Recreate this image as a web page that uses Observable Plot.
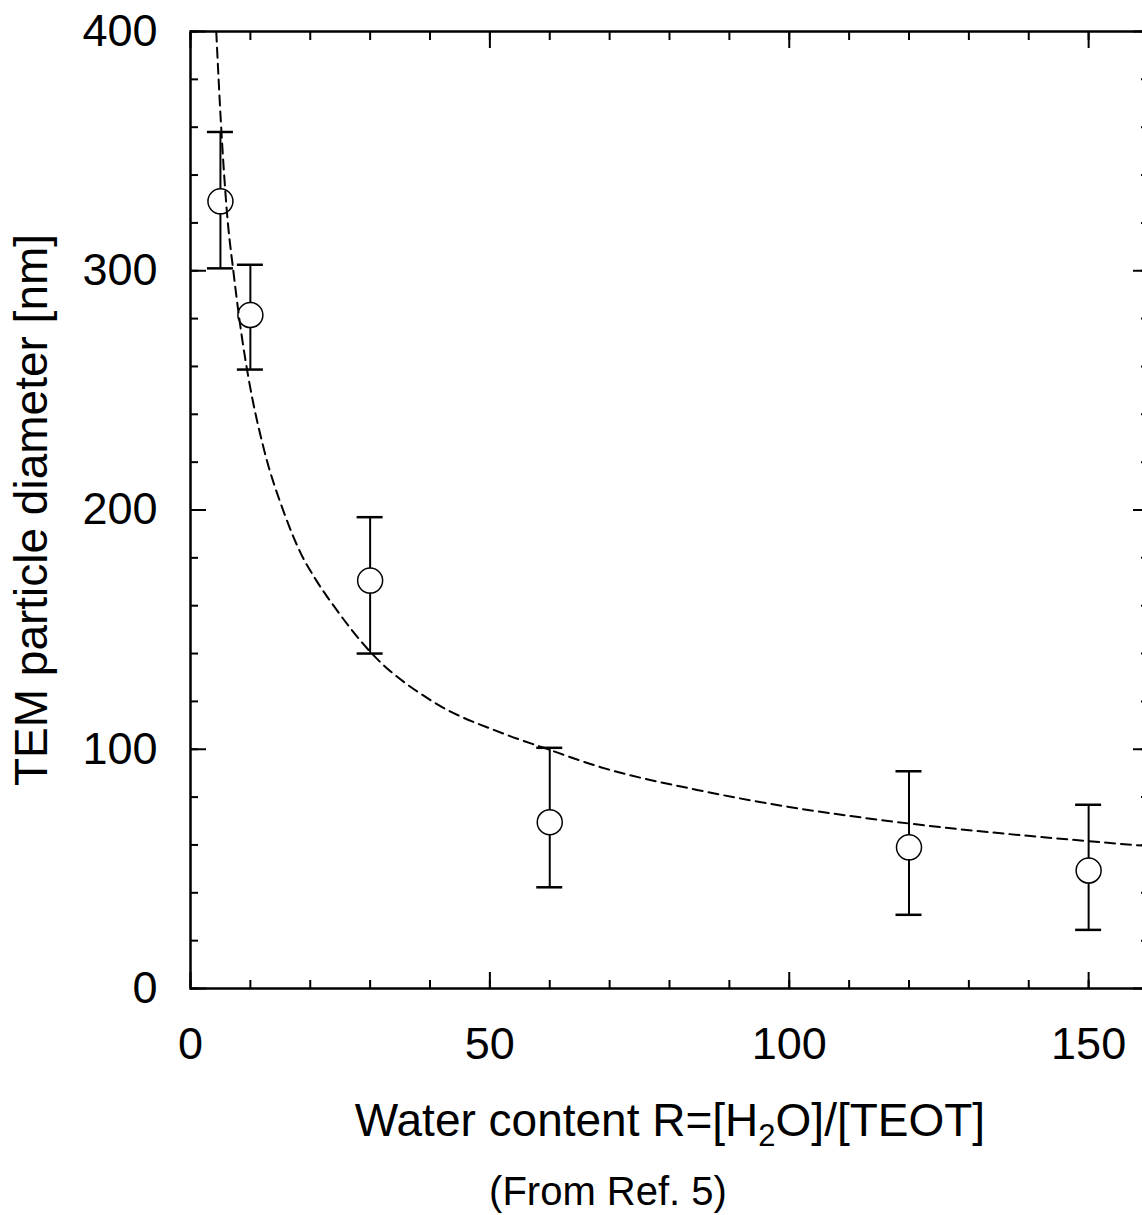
<!DOCTYPE html>
<html>
<head>
<meta charset="utf-8">
<script src="https://cdn.jsdelivr.net/npm/d3@7"></script>
<script src="https://cdn.jsdelivr.net/npm/@observablehq/plot@0.6"></script>
<style>
html, body { margin: 0; padding: 0; background: #fff; overflow: hidden; width: 1142px; height: 1215px; }
#chart svg { display: block; max-width: none; }
#caption { position: absolute; left: 408px; top: 1171px; width: 400px; text-align: center;
  font-family: "Liberation Sans", Arial, sans-serif; font-size: 40px; line-height: 40px; color: #000; }
</style>
</head>
<body>
<div id="chart"></div>
<div id="caption">(From Ref. 5)</div>
<script>
// Measured points: water content R vs TEM particle diameter (nm)
const waterR = [5, 10, 30, 60, 120, 150];
const diameter = [329, 281.5, 170.5, 69.5, 59, 49.3];
const errHigh = [358, 302.5, 197, 100.6, 90.8, 76.8];
const errLow = [301, 258.7, 140, 42.3, 30.8, 24.5];

// Dashed fit curve
const curveR = [4.3, 5.1, 6.1, 7.2, 8.6, 9.7, 12.2, 15.6, 18.4, 20.9, 23.9, 30.1, 40.1, 52.3, 59.0, 68.5, 84.6, 99.7, 119.9, 149.9, 160];
const curveD = [400, 361, 324, 299, 272, 255, 226, 199, 182, 171, 160, 140.5, 120.5, 106.5, 100.6, 92.5, 83, 76, 69, 61.6, 59.5];

const xMajor = [0, 50, 100, 150];
const xMinor = d3.range(0, 161, 10);
const yMajor = [0, 100, 200, 300, 400];
const yMinor = d3.range(0, 401, 20);

const points = waterR.map((r, i) => ({R: r, d: diameter[i], hi: errHigh[i], lo: errLow[i]}));
const curve = curveR.map((r, i) => ({R: r, d: curveD[i]}));

const blank = () => "";
const chart = Plot.plot({
  width: 1160,
  height: 1165,
  marginLeft: 190,
  marginRight: 12,
  marginTop: 31,
  marginBottom: 177,
  style: {fontFamily: "'Liberation Sans', Arial, sans-serif", color: "#000", background: "#fff"},
  x: {domain: [0, 160]},
  y: {domain: [0, 400]},
  marks: [
    Plot.axisX({anchor: "bottom", ticks: xMinor, tickSize: -8, tickFormat: blank, strokeWidth: 2, label: null}),
    Plot.axisX({anchor: "bottom", ticks: xMajor, tickSize: -16, tickFormat: blank, strokeWidth: 2, label: null}),
    Plot.axisX({anchor: "top", ticks: xMinor, tickSize: -8, tickFormat: blank, strokeWidth: 2, label: null}),
    Plot.axisX({anchor: "top", ticks: xMajor, tickSize: -16, tickFormat: blank, strokeWidth: 2, label: null}),
    Plot.axisX({anchor: "bottom", ticks: xMajor, tickSize: 0, tickPadding: 39, fontSize: 45, label: null}),
    Plot.axisY({anchor: "left", ticks: yMinor, tickSize: -8, tickFormat: blank, strokeWidth: 2, label: null}),
    Plot.axisY({anchor: "left", ticks: yMajor, tickSize: -16, tickFormat: blank, strokeWidth: 2, label: null}),
    Plot.axisY({anchor: "right", ticks: yMinor, tickSize: -8, tickFormat: blank, strokeWidth: 2, label: null}),
    Plot.axisY({anchor: "right", ticks: yMajor, tickSize: -16, tickFormat: blank, strokeWidth: 2, label: null}),
    Plot.axisY({anchor: "left", ticks: yMajor, tickSize: 0, tickPadding: 33, fontSize: 45, label: null}),
    Plot.frame({stroke: "#000", strokeWidth: 2.5}),
    Plot.ruleX(points, {x: "R", y1: "lo", y2: "hi", stroke: "#000", strokeWidth: 2}),
    Plot.ruleY(points, {y: "hi", x1: "R", x2: "R", insetLeft: -13, insetRight: -13, stroke: "#000", strokeWidth: 2.5}),
    Plot.ruleY(points, {y: "lo", x1: "R", x2: "R", insetLeft: -13, insetRight: -13, stroke: "#000", strokeWidth: 2.5}),
    Plot.dot(points, {x: "R", y: "d", r: 12.5, fill: "#fff", stroke: "#000", strokeWidth: 1.5}),
    Plot.line(curve, {x: "R", y: "d", stroke: "#000", strokeWidth: 2, strokeDasharray: "10,6", curve: "monotone-x", clip: true})
  ]
});
document.getElementById("chart").append(chart);

const svg = d3.select(chart);
// y-axis title
svg.append("text")
  .attr("transform", "translate(47,510) rotate(-90)")
  .attr("text-anchor", "middle")
  .attr("font-size", 46)
  .attr("fill", "#000")
  .text("TEM particle diameter [nm]");
// x-axis title with subscript
const xt = svg.append("text")
  .attr("x", 670).attr("y", 1136)
  .attr("text-anchor", "middle")
  .attr("font-size", 46)
  .attr("fill", "#000");
xt.append("tspan").text("Water content R=[H");
xt.append("tspan").attr("font-size", 31).attr("dy", 10).text("2");
xt.append("tspan").attr("dy", -10).text("O]/[TEOT]");
</script>
</body>
</html>
